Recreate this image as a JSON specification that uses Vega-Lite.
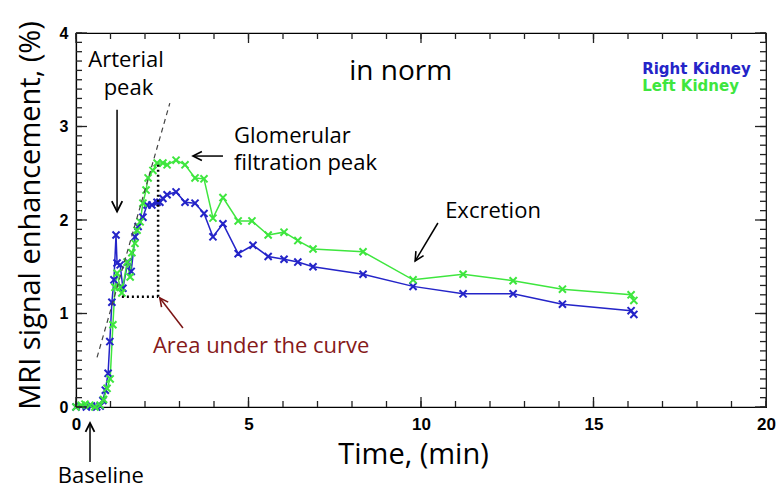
{
  "$schema": "https://vega.github.io/schema/vega-lite/v6.json",
  "width": 690,
  "height": 374,
  "autosize": {"type": "none"},
  "padding": {"left": 76, "top": 33, "right": 12, "bottom": 82},
  "background": "white",
  "config": {
    "view": {"stroke": "black", "strokeWidth": 1.2},
    "axis": {"grid": false, "domainColor": "black", "domainWidth": 1.2, "labelColor": "black", "labelFont": "Liberation Sans", "labelFontWeight": "bold", "labelFontSize": 17, "titleColor": "black"}
  },
  "datasets": {
    "series": [
      {"s": "Right Kidney", "t": 0, "v": 0.0}, {"s": "Right Kidney", "t": 0.15, "v": 0.01}, {"s": "Right Kidney", "t": 0.3, "v": 0.0}, {"s": "Right Kidney", "t": 0.45, "v": 0.01}, {"s": "Right Kidney", "t": 0.6, "v": 0.0}, {"s": "Right Kidney", "t": 0.7, "v": 0.01}, {"s": "Right Kidney", "t": 0.78, "v": 0.07}, {"s": "Right Kidney", "t": 0.85, "v": 0.18}, {"s": "Right Kidney", "t": 0.93, "v": 0.36}, {"s": "Right Kidney", "t": 0.98, "v": 0.7}, {"s": "Right Kidney", "t": 1.04, "v": 1.12}, {"s": "Right Kidney", "t": 1.1, "v": 1.36}, {"s": "Right Kidney", "t": 1.16, "v": 1.84}, {"s": "Right Kidney", "t": 1.19, "v": 1.54}, {"s": "Right Kidney", "t": 1.28, "v": 1.52}, {"s": "Right Kidney", "t": 1.36, "v": 1.27}, {"s": "Right Kidney", "t": 1.5, "v": 1.55}, {"s": "Right Kidney", "t": 1.6, "v": 1.45}, {"s": "Right Kidney", "t": 1.71, "v": 1.82}, {"s": "Right Kidney", "t": 1.8, "v": 1.93}, {"s": "Right Kidney", "t": 1.94, "v": 2.03}, {"s": "Right Kidney", "t": 2.06, "v": 2.16}, {"s": "Right Kidney", "t": 2.2, "v": 2.16}, {"s": "Right Kidney", "t": 2.35, "v": 2.19}, {"s": "Right Kidney", "t": 2.43, "v": 2.19}, {"s": "Right Kidney", "t": 2.52, "v": 2.23}, {"s": "Right Kidney", "t": 2.64, "v": 2.27}, {"s": "Right Kidney", "t": 2.9, "v": 2.3}, {"s": "Right Kidney", "t": 3.16, "v": 2.19}, {"s": "Right Kidney", "t": 3.45, "v": 2.18}, {"s": "Right Kidney", "t": 3.71, "v": 2.07}, {"s": "Right Kidney", "t": 3.97, "v": 1.82}, {"s": "Right Kidney", "t": 4.26, "v": 1.96}, {"s": "Right Kidney", "t": 4.7, "v": 1.64}, {"s": "Right Kidney", "t": 5.13, "v": 1.73}, {"s": "Right Kidney", "t": 5.57, "v": 1.61}, {"s": "Right Kidney", "t": 6.03, "v": 1.58}, {"s": "Right Kidney", "t": 6.43, "v": 1.55}, {"s": "Right Kidney", "t": 6.87, "v": 1.5}, {"s": "Right Kidney", "t": 8.32, "v": 1.42}, {"s": "Right Kidney", "t": 9.77, "v": 1.29}, {"s": "Right Kidney", "t": 11.22, "v": 1.21}, {"s": "Right Kidney", "t": 12.67, "v": 1.21}, {"s": "Right Kidney", "t": 14.1, "v": 1.1}, {"s": "Right Kidney", "t": 16.09, "v": 1.03}, {"s": "Right Kidney", "t": 16.17, "v": 0.99},
      {"s": "Left Kidney", "t": 0, "v": 0.0}, {"s": "Left Kidney", "t": 0.15, "v": 0.02}, {"s": "Left Kidney", "t": 0.26, "v": 0.03}, {"s": "Left Kidney", "t": 0.4, "v": 0.02}, {"s": "Left Kidney", "t": 0.55, "v": 0.0}, {"s": "Left Kidney", "t": 0.7, "v": 0.02}, {"s": "Left Kidney", "t": 0.8, "v": 0.08}, {"s": "Left Kidney", "t": 0.9, "v": 0.2}, {"s": "Left Kidney", "t": 0.99, "v": 0.3}, {"s": "Left Kidney", "t": 1.07, "v": 0.88}, {"s": "Left Kidney", "t": 1.13, "v": 1.28}, {"s": "Left Kidney", "t": 1.19, "v": 1.43}, {"s": "Left Kidney", "t": 1.28, "v": 1.28}, {"s": "Left Kidney", "t": 1.33, "v": 1.22}, {"s": "Left Kidney", "t": 1.48, "v": 1.55}, {"s": "Left Kidney", "t": 1.57, "v": 1.39}, {"s": "Left Kidney", "t": 1.62, "v": 1.65}, {"s": "Left Kidney", "t": 1.71, "v": 1.75}, {"s": "Left Kidney", "t": 1.77, "v": 1.89}, {"s": "Left Kidney", "t": 1.86, "v": 1.98}, {"s": "Left Kidney", "t": 1.94, "v": 2.18}, {"s": "Left Kidney", "t": 2.03, "v": 2.32}, {"s": "Left Kidney", "t": 2.09, "v": 2.45}, {"s": "Left Kidney", "t": 2.23, "v": 2.53}, {"s": "Left Kidney", "t": 2.35, "v": 2.61}, {"s": "Left Kidney", "t": 2.52, "v": 2.61}, {"s": "Left Kidney", "t": 2.64, "v": 2.59}, {"s": "Left Kidney", "t": 2.9, "v": 2.64}, {"s": "Left Kidney", "t": 3.16, "v": 2.59}, {"s": "Left Kidney", "t": 3.45, "v": 2.45}, {"s": "Left Kidney", "t": 3.71, "v": 2.44}, {"s": "Left Kidney", "t": 3.97, "v": 2.02}, {"s": "Left Kidney", "t": 4.26, "v": 2.24}, {"s": "Left Kidney", "t": 4.7, "v": 1.99}, {"s": "Left Kidney", "t": 5.1, "v": 1.99}, {"s": "Left Kidney", "t": 5.57, "v": 1.84}, {"s": "Left Kidney", "t": 6.03, "v": 1.87}, {"s": "Left Kidney", "t": 6.43, "v": 1.78}, {"s": "Left Kidney", "t": 6.87, "v": 1.69}, {"s": "Left Kidney", "t": 8.32, "v": 1.66}, {"s": "Left Kidney", "t": 9.77, "v": 1.36}, {"s": "Left Kidney", "t": 11.22, "v": 1.42}, {"s": "Left Kidney", "t": 12.67, "v": 1.35}, {"s": "Left Kidney", "t": 14.1, "v": 1.26}, {"s": "Left Kidney", "t": 16.09, "v": 1.2}, {"s": "Left Kidney", "t": 16.17, "v": 1.14}
    ],
    "xt": [{"t": 0}, {"t": 1}, {"t": 2}, {"t": 3}, {"t": 4}, {"t": 5}, {"t": 6}, {"t": 7}, {"t": 8}, {"t": 9}, {"t": 10}, {"t": 11}, {"t": 12}, {"t": 13}, {"t": 14}, {"t": 15}, {"t": 16}, {"t": 17}, {"t": 18}, {"t": 19}, {"t": 20}],
    "yt": [{"v": 0}, {"v": 0.1}, {"v": 0.2}, {"v": 0.3}, {"v": 0.4}, {"v": 0.5}, {"v": 0.6}, {"v": 0.7}, {"v": 0.8}, {"v": 0.9}, {"v": 1}, {"v": 1.1}, {"v": 1.2}, {"v": 1.3}, {"v": 1.4}, {"v": 1.5}, {"v": 1.6}, {"v": 1.7}, {"v": 1.8}, {"v": 1.9}, {"v": 2}, {"v": 2.1}, {"v": 2.2}, {"v": 2.3}, {"v": 2.4}, {"v": 2.5}, {"v": 2.6}, {"v": 2.7}, {"v": 2.8}, {"v": 2.9}, {"v": 3}, {"v": 3.1}, {"v": 3.2}, {"v": 3.3}, {"v": 3.4}, {"v": 3.5}, {"v": 3.6}, {"v": 3.7}, {"v": 3.8}, {"v": 3.9}, {"v": 4}],
    "tangent": [{"t": 0.61, "v": 0.53, "t2": 2.72, "v2": 3.25}],
    "dotted": [{"t": 1.33, "v": 1.18, "t2": 2.38, "v2": 1.18}, {"t": 2.38, "v": 1.18, "t2": 2.38, "v2": 2.62}],
    "arrows": [
      {"name": "arterial", "t": 1.19, "v": 3.18, "t2": 1.19, "v2": 2.09},
      {"name": "glomerular", "t": 4.26, "v": 2.684, "t2": 3.39, "v2": 2.684},
      {"name": "excretion", "t": 10.49, "v": 1.968, "t2": 9.83, "v2": 1.561},
      {"name": "area", "t": 3.1, "v": 0.845, "t2": 2.43, "v2": 1.166},
      {"name": "baseline", "t": 0.406, "v": -0.588, "t2": 0.406, "v2": -0.171}
    ],
    "notes": [
      {"label": "Arterial", "t": 1.45, "v": 3.636},
      {"label": "peak", "t": 1.52, "v": 3.337},
      {"label": "Baseline", "t": 0.72, "v": -0.81}
    ],
    "notesLeft": [
      {"label": "Glomerular", "t": 4.58, "v": 2.824},
      {"label": "filtration peak", "t": 4.58, "v": 2.535},
      {"label": "Excretion", "t": 10.7, "v": 2.021}
    ],
    "title": [{"label": "in norm", "t": 9.41, "v": 3.497}],
    "legend": [
      {"s": "Right Kidney", "t": 16.41, "v": 3.56},
      {"s": "Left Kidney", "t": 16.41, "v": 3.385}
    ],
    "area": [{"label": "Area under the curve", "t": 2.23, "v": 0.578}]
  },
  "layer": [
    {
      "data": {"name": "series"},
      "mark": {"type": "line", "strokeWidth": 1.5},
      "encoding": {
        "x": {"field": "t", "type": "quantitative", "scale": {"domain": [0, 20], "nice": false, "zero": false},
          "axis": {"orient": "bottom", "values": [0, 5, 10, 15, 20], "ticks": false, "labelFlush": false, "labelOverlap": false,
            "labelPadding": 17, "labelBaseline": "middle",
            "title": "Time, (min)", "titleFont": "Open Sans", "titleFontSize": 29, "titleFontWeight": "normal", "titleX": 337, "titleY": 56, "titleAlign": "center", "titleBaseline": "alphabetic"}},
        "y": {"field": "v", "type": "quantitative", "scale": {"domain": [0, 4], "nice": false, "zero": false},
          "axis": {"orient": "left", "values": [0, 1, 2, 3, 4], "ticks": false, "format": ".0f", "labelOverlap": false, "labelFontSize": 16, "labelPadding": 8, "labelFlush": false,
            "title": "MRI signal enhancement, (%)", "titleFont": "Open Sans", "titleFontSize": 29, "titleFontWeight": "normal", "titleX": -46, "titleY": 182, "titleAngle": -90, "titleAlign": "center", "titleBaseline": "middle"}},
        "color": {"field": "s", "type": "nominal", "scale": {"domain": ["Right Kidney", "Left Kidney"], "range": ["#2424c8", "#3ee63e"]}, "legend": null}
      }
    },
    {
      "data": {"name": "series"},
      "mark": {"type": "point", "shape": "M-1,-1L1,1M-1,1L1,-1", "filled": false, "size": 50, "strokeWidth": 2, "opacity": 1},
      "encoding": {
        "x": {"field": "t", "type": "quantitative"},
        "y": {"field": "v", "type": "quantitative"},
        "color": {"field": "s", "type": "nominal"}
      }
    },
    {
      "data": {"name": "xt"},
      "mark": {"type": "tick", "orient": "vertical", "size": 6, "thickness": 1.3, "yOffset": -3, "color": "#222", "opacity": 1},
      "encoding": {"x": {"field": "t", "type": "quantitative"}, "y": {"datum": 0, "type": "quantitative"}}
    },
    {
      "data": {"name": "xt"},
      "transform": [{"filter": "datum.t % 5 === 0"}],
      "mark": {"type": "tick", "orient": "vertical", "size": 10, "thickness": 1.3, "yOffset": -5, "color": "#222", "opacity": 1},
      "encoding": {"x": {"field": "t", "type": "quantitative"}, "y": {"datum": 0, "type": "quantitative"}}
    },
    {
      "data": {"name": "xt"},
      "mark": {"type": "tick", "orient": "vertical", "size": 6, "thickness": 1.3, "yOffset": 3, "color": "#222", "opacity": 1},
      "encoding": {"x": {"field": "t", "type": "quantitative"}, "y": {"datum": 4, "type": "quantitative"}}
    },
    {
      "data": {"name": "xt"},
      "transform": [{"filter": "datum.t % 5 === 0"}],
      "mark": {"type": "tick", "orient": "vertical", "size": 10, "thickness": 1.3, "yOffset": 5, "color": "#222", "opacity": 1},
      "encoding": {"x": {"field": "t", "type": "quantitative"}, "y": {"datum": 4, "type": "quantitative"}}
    },
    {
      "data": {"name": "yt"},
      "mark": {"type": "tick", "orient": "horizontal", "size": 6, "thickness": 1.3, "xOffset": 3, "color": "#222", "opacity": 1},
      "encoding": {"y": {"field": "v", "type": "quantitative"}, "x": {"datum": 0, "type": "quantitative"}}
    },
    {
      "data": {"name": "yt"},
      "transform": [{"filter": "datum.v % 1 === 0"}],
      "mark": {"type": "tick", "orient": "horizontal", "size": 11, "thickness": 1.3, "xOffset": 5.5, "color": "#222", "opacity": 1},
      "encoding": {"y": {"field": "v", "type": "quantitative"}, "x": {"datum": 0, "type": "quantitative"}}
    },
    {
      "data": {"name": "yt"},
      "mark": {"type": "tick", "orient": "horizontal", "size": 6, "thickness": 1.3, "xOffset": -3, "color": "#222", "opacity": 1},
      "encoding": {"y": {"field": "v", "type": "quantitative"}, "x": {"datum": 20, "type": "quantitative"}}
    },
    {
      "data": {"name": "yt"},
      "transform": [{"filter": "datum.v % 1 === 0"}],
      "mark": {"type": "tick", "orient": "horizontal", "size": 11, "thickness": 1.3, "xOffset": -5.5, "color": "#222", "opacity": 1},
      "encoding": {"y": {"field": "v", "type": "quantitative"}, "x": {"datum": 20, "type": "quantitative"}}
    },
    {
      "data": {"name": "tangent"},
      "mark": {"type": "rule", "color": "#444", "strokeWidth": 1.2, "strokeDash": [5, 4]},
      "encoding": {
        "x": {"field": "t", "type": "quantitative"}, "y": {"field": "v", "type": "quantitative"},
        "x2": {"field": "t2"}, "y2": {"field": "v2"}
      }
    },
    {
      "data": {"name": "dotted"},
      "mark": {"type": "rule", "color": "black", "strokeWidth": 2.5, "strokeDash": [2, 3]},
      "encoding": {
        "x": {"field": "t", "type": "quantitative"}, "y": {"field": "v", "type": "quantitative"},
        "x2": {"field": "t2"}, "y2": {"field": "v2"}
      }
    },
    {
      "data": {"name": "arrows"},
      "mark": {"type": "rule", "strokeWidth": 1.5},
      "encoding": {
        "x": {"field": "t", "type": "quantitative"}, "y": {"field": "v", "type": "quantitative"},
        "x2": {"field": "t2"}, "y2": {"field": "v2"},
        "color": {"condition": {"test": "datum.name === 'area'", "value": "#7b1414"}, "value": "black"}
      }
    },
    {
      "data": {"name": "arrows"},
      "transform": [{"filter": "datum.name === 'arterial'"}],
      "mark": {"type": "point", "shape": "M-1,2L0,0L1,2", "filled": false, "size": 110, "strokeWidth": 1.8, "color": "black", "opacity": 1, "angle": 180},
      "encoding": {"x": {"field": "t2", "type": "quantitative"}, "y": {"field": "v2", "type": "quantitative"}}
    },
    {
      "data": {"name": "arrows"},
      "transform": [{"filter": "datum.name === 'glomerular'"}],
      "mark": {"type": "point", "shape": "M-1,2L0,0L1,2", "filled": false, "size": 80, "strokeWidth": 1.6, "color": "black", "opacity": 1, "angle": 270},
      "encoding": {"x": {"field": "t2", "type": "quantitative"}, "y": {"field": "v2", "type": "quantitative"}}
    },
    {
      "data": {"name": "arrows"},
      "transform": [{"filter": "datum.name === 'excretion'"}],
      "mark": {"type": "point", "shape": "M-1,2L0,0L1,2", "filled": false, "size": 80, "strokeWidth": 1.6, "color": "black", "opacity": 1, "angle": 211},
      "encoding": {"x": {"field": "t2", "type": "quantitative"}, "y": {"field": "v2", "type": "quantitative"}}
    },
    {
      "data": {"name": "arrows"},
      "transform": [{"filter": "datum.name === 'area'"}],
      "mark": {"type": "point", "shape": "M-1,2L0,0L1,2", "filled": false, "size": 70, "strokeWidth": 1.6, "color": "#7b1414", "opacity": 1, "angle": 323},
      "encoding": {"x": {"field": "t2", "type": "quantitative"}, "y": {"field": "v2", "type": "quantitative"}}
    },
    {
      "data": {"name": "arrows"},
      "transform": [{"filter": "datum.name === 'baseline'"}],
      "mark": {"type": "point", "shape": "M-1,2L0,0L1,2", "filled": false, "size": 80, "strokeWidth": 1.8, "color": "black", "opacity": 1, "angle": 0},
      "encoding": {"x": {"field": "t2", "type": "quantitative"}, "y": {"field": "v2", "type": "quantitative"}}
    },
    {
      "data": {"name": "notes"},
      "mark": {"type": "text", "font": "Open Sans", "fontSize": 22, "color": "black", "align": "center", "baseline": "alphabetic"},
      "encoding": {"x": {"field": "t", "type": "quantitative"}, "y": {"field": "v", "type": "quantitative"}, "text": {"field": "label"}}
    },
    {
      "data": {"name": "notesLeft"},
      "mark": {"type": "text", "font": "Open Sans", "fontSize": 22, "color": "black", "align": "left", "baseline": "alphabetic"},
      "encoding": {"x": {"field": "t", "type": "quantitative"}, "y": {"field": "v", "type": "quantitative"}, "text": {"field": "label"}}
    },
    {
      "data": {"name": "title"},
      "mark": {"type": "text", "font": "Open Sans", "fontSize": 28, "color": "black", "align": "center", "baseline": "alphabetic"},
      "encoding": {"x": {"field": "t", "type": "quantitative"}, "y": {"field": "v", "type": "quantitative"}, "text": {"field": "label"}}
    },
    {
      "data": {"name": "legend"},
      "mark": {"type": "text", "font": "DejaVu Sans", "fontSize": 15, "fontWeight": "bold", "align": "left", "baseline": "alphabetic"},
      "encoding": {"x": {"field": "t", "type": "quantitative"}, "y": {"field": "v", "type": "quantitative"}, "text": {"field": "s"}, "color": {"field": "s", "type": "nominal"}}
    },
    {
      "data": {"name": "area"},
      "mark": {"type": "text", "font": "Open Sans", "fontSize": 22, "color": "#861a1a", "align": "left", "baseline": "alphabetic"},
      "encoding": {"x": {"field": "t", "type": "quantitative"}, "y": {"field": "v", "type": "quantitative"}, "text": {"field": "label"}}
    }
  ]
}
